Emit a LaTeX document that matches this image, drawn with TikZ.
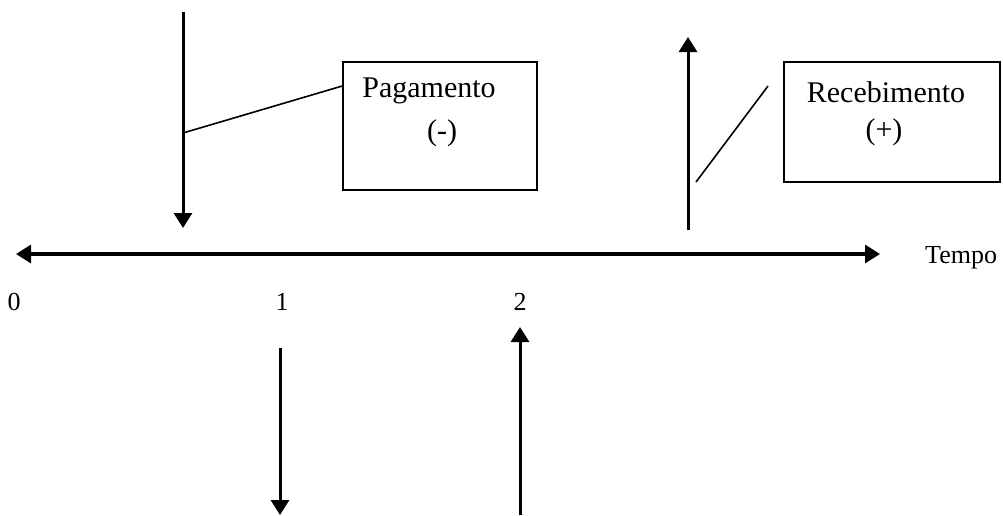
\documentclass[tikz,border=0pt]{standalone}
\usepackage{fontspec}
\setmainfont{Liberation Serif}
\usetikzlibrary{arrows.meta,positioning}

\begin{document}
\begin{tikzpicture}[x=1pt,y=-1pt]

\tikzset{
  flow/.style={line width=3pt, -{Triangle[length=15pt, width=18pt]}},
  timeline/.style={line width=3.2pt, {Triangle[length=15pt, width=18pt]}-{Triangle[length=15pt, width=18pt]}},
  callout/.style={draw=black, line width=1.5pt, inner sep=0pt},
  pointer/.style={black, line width=1.6pt},
  boxtext/.style={font=\fontsize{30}{34}\selectfont, inner sep=0pt},
  ticklabel/.style={font=\fontsize{26}{30}\selectfont, inner sep=0pt}
}

\useasboundingbox (0,0) rectangle (1003,515);

% Time axis
\coordinate (axisL) at (16,254);
\coordinate (axisR) at (880,254);
\draw[timeline] (axisL) -- (axisR);
\node[ticklabel, anchor=west] (tempo) at (925,258) {Tempo};

% Period labels
\node[ticklabel] (t0) at (14,302) {0};
\node[ticklabel] (t1) at (282,302) {1};
\node[ticklabel] (t2) at (520,302) {2};

% Upper flows
\coordinate (payTop) at (183,12);
\coordinate (payTip) at (183,228);
\draw[flow] (payTop) -- (payTip);
\coordinate (recBase) at (688,230);
\coordinate (recTip) at (688,37);
\draw[flow] (recBase) -- (recTip);

% Callout boxes
\node[callout, minimum width=194pt, minimum height=128pt] (paybox) at (440,126) {};
\node[boxtext] (paytxt) at (429,91) {Pagamento};
\node[boxtext] (paysign) at (442,133) {(-)};

\node[callout, minimum width=216pt, minimum height=120pt] (recbox) at (892,122) {};
\node[boxtext] (rectxt) at (886,92) {Recebimento};
\node[boxtext] (recsign) at (884,132) {(+)};

% Pointers
\coordinate (payJoin) at (183,133);
\draw[pointer] (payJoin) -- (paybox.west |- 0,86);
\coordinate (recA) at (696,182);
\coordinate (recB) at (768,86);
\draw[pointer] (recA) -- (recB);

% Lower flows
\coordinate (oneTop) at (280,348);
\coordinate (oneTip) at (280,515);
\draw[flow] (oneTop) -- (oneTip);
\coordinate (twoBase) at (520,515);
\coordinate (twoTip) at (520,327);
\draw[flow] (twoBase) -- (twoTip);

\end{tikzpicture}
\end{document}
